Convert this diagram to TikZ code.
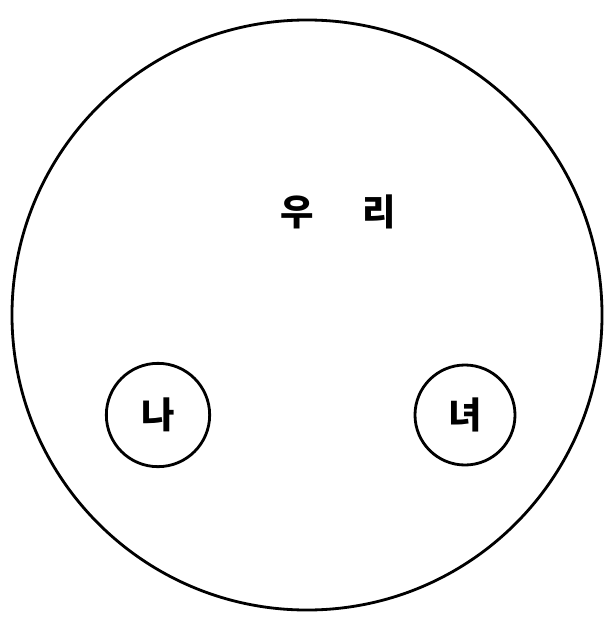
\documentclass[tikz,border=0pt]{standalone}
\usepackage{fontspec}
\newfontfamily\kr{Noto Sans CJK KR}
\usetikzlibrary{positioning}

\begin{document}
\begin{tikzpicture}[x=0.03cm, y=-0.03cm]
        \useasboundingbox (0,0) rectangle (612,617);
        \tikzset{
            ring/.style={draw, circle, line width=2.4pt, inner sep=0pt},
            hangul/.style={font=\kr\bfseries\fontsize{31}{36}\selectfont}
        }

        % 우리
        \node[ring, minimum size=17.7cm] (woori) at (307,315) {};
        \node[hangul] (wooriText) at (338,212) {우\hspace{1.45cm}리};

        % 나, 녀
        \node[ring, minimum size=3.1cm, hangul] (na) at (158,415) {나};
        \node[ring, minimum size=3.0cm, hangul] (nyeo) at (465,415) {녀};

    \end{tikzpicture}
\end{document}
